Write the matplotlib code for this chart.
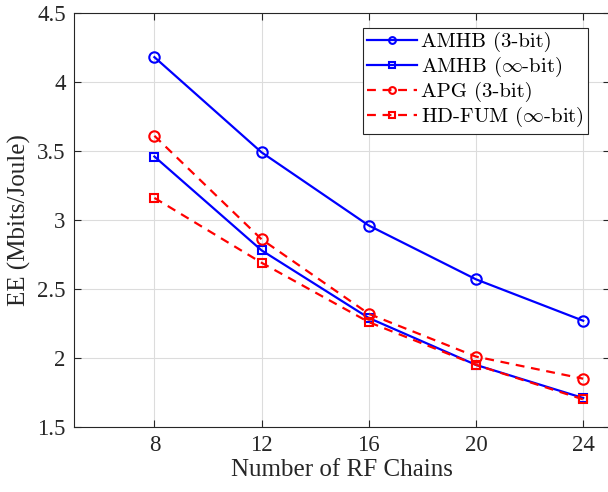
import matplotlib.pyplot as plt

plt.rcParams['font.family'] = ['Liberation Serif', 'DejaVu Serif']
plt.rcParams['mathtext.fontset'] = 'cm'

# data
rf_chains = [8, 12, 16, 20, 24]
amhb_3bit = [4.18, 3.49, 2.96, 2.57, 2.27]
amhb_inf = [3.46, 2.78, 2.29, 1.95, 1.71]
apg_3bit = [3.61, 2.86, 2.32, 2.01, 1.85]
hdfum_inf = [3.16, 2.69, 2.26, 1.95, 1.70]
xticks = [8, 12, 16, 20, 24]
yticks = [1.5, 2, 2.5, 3, 3.5, 4, 4.5]

fig = plt.figure(figsize=(6.08, 4.92), dpi=100)
# MATLAB-like axes box, right side runs just past the image edge
ax = fig.add_axes([74/608, 1 - 427/492, 536/608, 414/492])

dash = (0, (4, 3))
ax.plot(rf_chains, amhb_3bit, color='#0000ff', lw=1.6, marker='o', ms=7.5,
        mfc='none', mew=1.5, label='AMHB (3-bit)')
ax.plot(rf_chains, amhb_inf, color='#0000ff', lw=1.6, marker='s', ms=6,
        mfc='none', mew=1.5, label=r'AMHB ($\infty$-bit)')
ax.plot(rf_chains, apg_3bit, color='#ff0000', lw=1.6, ls=dash, marker='o', ms=7.5,
        mfc='none', mew=1.5, label='APG (3-bit)')
ax.plot(rf_chains, hdfum_inf, color='#ff0000', lw=1.6, ls=dash, marker='s', ms=6,
        mfc='none', mew=1.5, label=r'HD-FUM ($\infty$-bit)')

ax.set_xlim(5, 25)
ax.set_ylim(1.5, 4.5)
ax.set_xticks(xticks)
ax.set_yticks(yticks)
ax.set_yticklabels(['1.5', '2', '2.5', '3', '3.5', '4', '4.5'])
ax.grid(True, color='#dcdcdc', lw=0.8)
ax.set_axisbelow(True)
ax.tick_params(direction='in', top=True, right=True, labelsize=16.5,
               colors='#262626', length=5, pad=6)
for s in ax.spines.values():
    s.set_color('#262626')
    s.set_linewidth(0.8)

ax.set_xlabel('Number of RF Chains', fontsize=18, color='#262626', labelpad=2)
ax.set_ylabel('EE (Mbits/Joule)', fontsize=18, color='#262626', labelpad=4)

leg = ax.legend(loc='upper left', bbox_to_anchor=((363 - 74)/536, 1 - 15/414),
                prop={'family': 'cmr10', 'size': 15}, frameon=True,
                fancybox=False, handlelength=2.4, borderpad=0.2,
                labelspacing=0.14, handletextpad=0.2, borderaxespad=0,
                framealpha=1, markerscale=0.65)
leg.get_frame().set_edgecolor('#262626')
leg.get_frame().set_linewidth(0.8)

fig.savefig('out.png', dpi=100)
